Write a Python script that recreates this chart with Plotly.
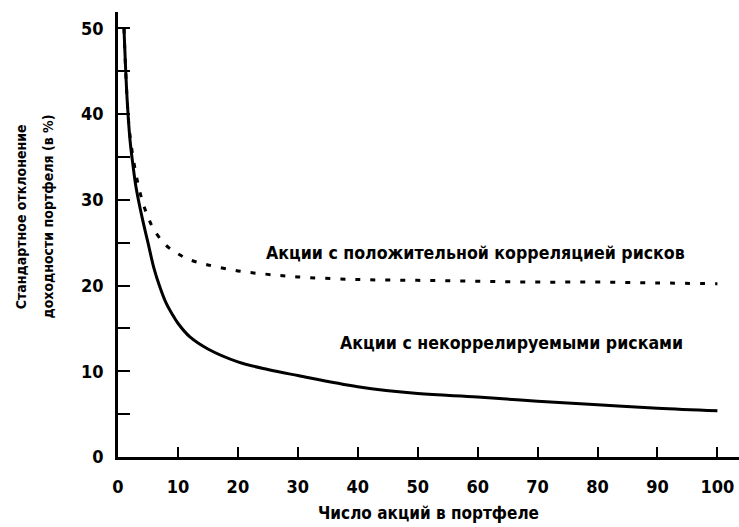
import plotly.graph_objects as go

# ---------------- data ----------------
n_uncorr = [1, 1.5, 2, 2.5, 3, 4, 5, 6, 7, 8, 9, 10, 12, 15, 20, 25, 30, 40, 50, 60, 70, 80, 90, 100]
sd_uncorr = [50, 42, 37, 34, 31.5, 28, 25, 22, 19.8, 18, 16.7, 15.6, 14, 12.6, 11.1, 10.2, 9.5, 8.2, 7.4, 7.0, 6.5, 6.1, 5.7, 5.4]

n_corr = [1, 1.5, 2, 3, 4, 5, 6, 8, 10, 12, 15, 20, 25, 30, 40, 50, 60, 70, 80, 90, 100]
sd_corr = [50, 42, 37.5, 33, 30, 28, 26.5, 24.7, 23.7, 23, 22.4, 21.7, 21.3, 21.0, 20.7, 20.6, 20.5, 20.4, 20.4, 20.3, 20.2]

x_ticks = [0, 10, 20, 30, 40, 50, 60, 70, 80, 90, 100]
y_ticks = [0, 10, 20, 30, 40, 50]

label_corr = "Акции с положительной корреляцией рисков"
label_uncorr = "Акции с некоррелируемыми рисками"
x_title = "Число акций в портфеле"
y_title = ["Стандартное отклонение", "доходности портфеля (в %)"]

FONT = "DejaVu Sans Condensed"

fig = go.Figure()

fig.add_trace(go.Scatter(x=n_corr, y=sd_corr, mode="lines",
                         line=dict(color="black", width=3, dash="5px,10px"),
                         line_shape="spline", showlegend=False))
fig.add_trace(go.Scatter(x=n_uncorr, y=sd_uncorr, mode="lines",
                         line=dict(color="black", width=3),
                         line_shape="spline", showlegend=False))

fig.update_layout(
    width=739, height=527,
    margin=dict(l=118, r=0, t=12, b=70, autoexpand=False),
    paper_bgcolor="white", plot_bgcolor="white",
    font=dict(family=FONT, color="black", size=18, weight="bold"),
    annotations=[
        dict(text=label_corr, x=59.7, y=23.8, xref="x", yref="y",
             showarrow=False, font=dict(size=17.6)),
        dict(text=label_uncorr, x=65.7, y=13.3, xref="x", yref="y",
             showarrow=False, font=dict(size=17.6)),
        dict(text=x_title, x=0.5, y=-0.125, xref="paper", yref="paper",
             yanchor="middle", showarrow=False, font=dict(size=17)),
        dict(text=y_title[0], x=-0.157, y=0.54, xref="paper", yref="paper",
             textangle=-90, xanchor="center", yanchor="middle",
             showarrow=False, font=dict(size=14)),
        dict(text=y_title[1], x=-0.113, y=0.54, xref="paper", yref="paper",
             textangle=-90, xanchor="center", yanchor="middle",
             showarrow=False, font=dict(size=14)),
    ],
)

fig.update_xaxes(range=[0, 103.6], tickvals=x_ticks, ticks="inside", ticklen=10,
                 tickwidth=1.5, tickcolor="black", showline=True, linecolor="black",
                 linewidth=2.5, showgrid=False, zeroline=False, ticklabelstandoff=12,
                 automargin=False)
fig.update_yaxes(range=[0, 51.9], tickvals=y_ticks, ticks="inside", ticklen=12,
                 tickwidth=2, tickcolor="black", showline=True, linecolor="black",
                 linewidth=2.5, showgrid=False, zeroline=False, ticklabelstandoff=8,
                 automargin=False,
                 minor=dict(dtick=5, ticks="inside", ticklen=12, tickwidth=2,
                            tickcolor="black"))

# page body has a default 8px margin; drop it so the figure sits at the corner
fig.write_html("out.html", config={"displayModeBar": False},
               post_script="document.body.style.margin='0';")
